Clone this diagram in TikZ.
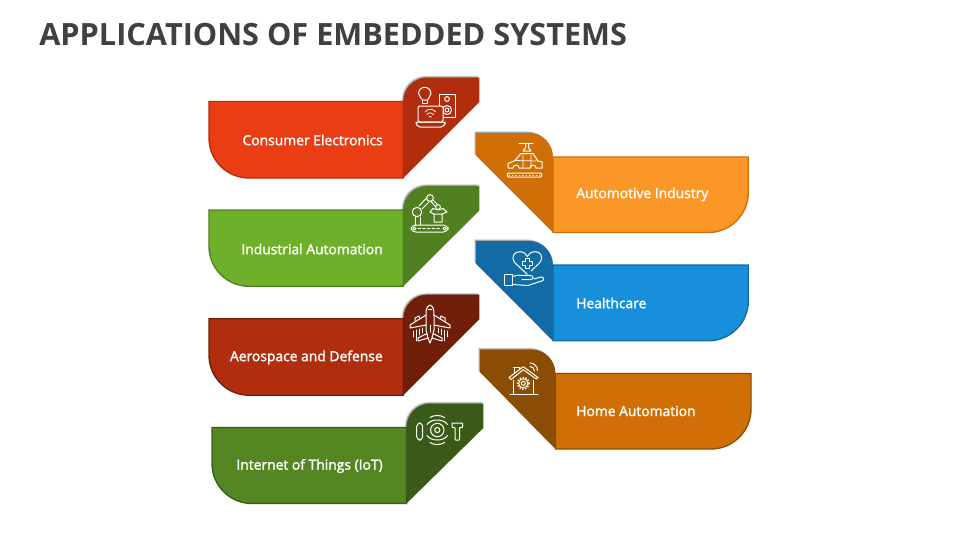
\documentclass[tikz,border=0pt]{standalone}
\usepackage{fontspec}
\setmainfont{Open Sans}
\definecolor{titlec}{HTML}{404040}
\definecolor{cA}{HTML}{EB3D13}\definecolor{fA}{HTML}{B02E0E}
\definecolor{cB}{HTML}{FB9726}\definecolor{fB}{HTML}{D06F05}
\definecolor{cC}{HTML}{6FB02A}\definecolor{fC}{HTML}{518020}
\definecolor{cD}{HTML}{178FDB}\definecolor{fD}{HTML}{126BA5}
\definecolor{cE}{HTML}{B02E0E}\definecolor{fE}{HTML}{70200A}
\definecolor{cF}{HTML}{D06F05}\definecolor{fF}{HTML}{8B4D04}
\definecolor{cG}{HTML}{548622}\definecolor{fG}{HTML}{3A5B17}
\tikzset{
  lab/.style={text=white,font=\fontsize{10.4pt}{12pt}\selectfont\addfontfeature{FakeBold=1.8},inner sep=0pt},
  ic/.style={draw=white,line width=0.75pt,line cap=round,line join=round,fill=none},
  icthin/.style={draw=white,line width=0.55pt,line cap=round,line join=round,fill=none}
}
\newcommand{\softshadow}[1]{%
  \foreach \d/\o in {3/.10,2/.16,1/.22}{\fill[black,opacity=\o,shift={(-\d*0.6,-\d*0.6)}] #1;}}
% x y bar flag width-to-junction height flag-right
\newcommand{\leftband}[7]{%
  \begin{scope}[shift={(#1,#2)}]
    \softshadow{(#5,#6) -- (#5,0) arc[start angle=180,end angle=270,radius=24] -- (#7,-24) -- (#7,0.5) -- cycle}
    \filldraw[fill=#3,draw=#4,line width=1pt] (#5,0) -- (0,0) -- (0,#6-40) arc[start angle=180,end angle=90,radius=40] -- (#5,#6) -- cycle;
    \fill[#4] (#5,#6) -- (#5,0) arc[start angle=180,end angle=270,radius=24] -- (#7,-24) -- (#7,0.5) -- cycle;
  \end{scope}}
% x y bar flag width height flag-left
\newcommand{\rightband}[7]{%
  \begin{scope}[shift={(#1,#2)}]
    \softshadow{(0,#6) -- (0,0) arc[start angle=0,end angle=-90,radius=24] -- (-#7,-24) -- (-#7,-1.5) -- cycle}
    \filldraw[fill=#3,draw=#4,line width=1pt] (0,0) -- (#5,0) -- (#5,#6-40) arc[start angle=0,end angle=90,radius=40] -- (0,#6) -- cycle;
    \fill[#4] (0,#6) -- (0,0) arc[start angle=0,end angle=-90,radius=24] -- (-#7,-24) -- (-#7,-1.5) -- cycle;
  \end{scope}}
\begin{document}
\begin{tikzpicture}[x=0.75pt,y=-0.75pt]
\useasboundingbox (0,0) rectangle (960,540);
\fill[white] (0,0) rectangle (960,540);
\node[anchor=west,inner sep=0pt,text=titlec,font=\fontsize{23pt}{28pt}\selectfont\bfseries] (title) at (39,35) {APPLICATIONS OF EMBEDDED SYSTEMS};

\leftband{209}{101.5}{cA}{fA}{194.3}{76.5}{270.3}
\leftband{209}{210}{cC}{fC}{194.3}{76.3}{270.3}
\leftband{209}{318.7}{cE}{fE}{194.3}{76.5}{270.3}
\leftband{212}{427.5}{cG}{fG}{194.5}{76}{271.3}
\rightband{553}{157}{cB}{fB}{195.3}{75.5}{77}
\rightband{553}{265}{cD}{fD}{195.3}{75.8}{77}
\rightband{555.5}{373.5}{cF}{fF}{195.5}{75.5}{75.5}

\node[lab,anchor=east] (l1) at (383,140) {Consumer Electronics};
\node[lab,anchor=east] (l2) at (383,249) {Industrial Automation};
\node[lab,anchor=east] (l3) at (383,357.5) {Aerospace and Defense};
\node[lab,anchor=east] (l4) at (383,466) {Internet of Things (IoT)};
\node[lab,anchor=west] (r1) at (576,194.5) {Automotive Industry};
\node[lab,anchor=west] (r2) at (576,303) {Healthcare};
\node[lab,anchor=west] (r3) at (576,411) {Home Automation};

% --- consumer electronics icon
\draw[ic] (422.5,100) .. controls (422,97.5) and (418.5,97) .. (418.5,93.5) arc[start angle=180,end angle=360,radius=6.2] .. controls (431,97) and (428,97.5) .. (427.5,100) -- cycle;
\draw[ic] (422.5,100) -- (422.5,103.5) -- (427.5,103.5) -- (427.5,100);
\draw[ic] (439,94) rectangle (455,117);
\draw[ic] (447,99) circle (2.4) (447,110) circle (4.5) (447,110) circle (2);
\filldraw[fill=fA,draw=white,line width=0.75pt,rounded corners=1pt] (418,106) rectangle (443,122);
\draw[ic,rounded corners=1.5pt] (416,122) -- (445,122) -- (445,124) -- (443,127) -- (418,127) -- (416,124) -- cycle;
\draw[icthin] (425,112) arc[start angle=215,end angle=325,radius=6.5];
\draw[icthin] (427,114.5) arc[start angle=215,end angle=325,radius=4];
\draw[icthin] (429,117) arc[start angle=215,end angle=325,radius=1.5];

% --- automotive icon
\draw[ic] (519,143) -- (533,143);
\draw[ic] (525.5,143) -- (525.5,148) -- (523,151) -- (531,151) -- (528.5,148) -- (528.5,143);
\draw[ic] (508,168) -- (508,163.5) -- (515,160.5) -- (521,153.5) -- (533,153.5) -- (538,161) -- (542,162) -- (542,168) -- (536,168) arc[start angle=0,end angle=-180,radius=3] -- (519,168) arc[start angle=0,end angle=-180,radius=3] -- cycle;
\draw[icthin] (523,155) -- (523,168) (531,155) -- (531,168) (515,160.5) -- (538,161);
\draw[ic,rounded corners=1.5pt] (507,173) rectangle (542,177);
\draw[icthin,dotted] (509,175) -- (540,175);

% --- robot icon
\draw[ic,rounded corners=3.4pt] (411,225) rectangle (448,232);
\draw[icthin] (414.5,228.5) circle (1.5) (444.5,228.5) circle (1.5);
\draw[icthin,dash pattern=on 2pt off 1.5pt] (418,228.5) -- (441,228.5);
\draw[ic] (417,212) circle (4.7) (430,198) circle (3.4) (438,207) circle (2.4);
\draw[ic] (415,217) -- (415,225) (420,217) -- (420,225);
\draw[ic] (419,206) -- (426.5,198) (422,209) -- (429,202);
\draw[ic] (433,200) -- (437,204) (431,201.5) -- (436,207);
\draw[ic] (434,214) rectangle (442,222) (434,214) -- (430,212) -- (433,208.5) -- (438,210) -- (443,208.5) -- (447,212) -- (442,214);

% --- healthcare icon
\draw[ic] (527.3,274.3) -- (515,263) .. controls (510,256) and (515,251.5) .. (520,251.7) .. controls (524,251.7) and (526,254) .. (527.3,256.5) .. controls (528.6,254) and (531,251.7) .. (535,251.7) .. controls (540,251.5) and (544.5,256) .. (539.5,263) -- (531,271);
\draw[ic] (525.5,258.5) -- (529.1,258.5) -- (529.1,261.5) -- (532,261.5) -- (532,265) -- (529.1,265) -- (529.1,268) -- (525.5,268) -- (525.5,265) -- (522.6,265) -- (522.6,261.5) -- (525.5,261.5) -- cycle;
\draw[ic] (504.3,274) rectangle (512.3,285.7);
\draw[ic] (512.3,276.5) -- (518,275.2) -- (530,275.5) .. controls (534,275.5) and (534.5,279.5) .. (530,279.5) -- (522,279.5);
\draw[ic] (534,279) -- (541,277) .. controls (544,277) and (544.5,280) .. (543,280.5) -- (528,285.5) -- (512.3,284.5);

% --- plane icon
\draw[ic] (430,305) .. controls (426,307) and (426,310) .. (426,316) -- (426,330) -- (428,338) -- (418,341) -- (418,338) -- (426,334) (430,305) .. controls (434,307) and (434,310) .. (434,316) -- (434,330) -- (432,338) -- (442,341) -- (442,338) -- (434,334) (428,338) -- (430,343) -- (432,338);
\draw[ic] (426,315) -- (410,325) -- (410,328) -- (426,325);
\draw[ic] (434,315) -- (450,325) -- (450,328) -- (434,325);
\draw[ic] (428,309) -- (432,309) (430,325) -- (430,332);
\draw[ic] (415,322) -- (415,318) -- (419,316) -- (420,319);
\draw[ic] (445,322) -- (445,318) -- (441,316) -- (440,319);
\draw[icthin] (413,331) -- (413,337) (416,330) -- (416,341) (419,329) -- (419,335) (422,328) -- (422,333);
\draw[icthin] (447,331) -- (447,337) (444,330) -- (444,341) (441,329) -- (441,335) (438,328) -- (438,333);

% --- home icon
\draw[ic] (509,377.5) -- (523.3,366.7) -- (538,377.5) -- (536.3,379) -- (523.3,369.7) -- (511,379.5) -- cycle;
\draw[ic] (514.5,373) -- (514.5,367) -- (519,367) -- (519,369.5);
\draw[ic] (513.5,367) -- (520,367);
\draw[ic] (513,380) -- (513,394) (533,380) -- (533,394);
\draw[ic] (510,394.2) -- (538,394.2);
\draw[ic] (523.3,383.3) circle (2) (523.3,383.3) circle (4.6);
\draw[ic,dash pattern=on 1pt off 1.2pt,line cap=butt,line width=1.1pt] (523.3,383.3) circle (5.8);
\draw[ic] (530,366.5) arc[start angle=-90,end angle=0,radius=4.5];
\draw[ic] (530,363) arc[start angle=-90,end angle=0,radius=7.5];

% --- IoT icon
\draw[ic,rounded corners=2.8pt] (416.7,423) rectangle (422.7,440);
\draw[ic] (437.3,430) circle (2.6) (437.3,430) circle (6.7);
\draw[ic] (427,424.5) .. controls (431,418.5) and (443.5,418.5) .. (447.5,424.5);
\draw[ic] (430,417.5) .. controls (434,414.8) and (440.5,414.8) .. (444.5,417.5);
\draw[ic] (427,435.5) .. controls (431,441.5) and (443.5,441.5) .. (447.5,435.5);
\draw[ic] (430,442.5) .. controls (434,445.2) and (440.5,445.2) .. (444.5,442.5);
\draw[ic,rounded corners=0.5pt] (452,423) -- (462.5,423) -- (462.5,427.5) -- (459.5,427.5) -- (459.5,440) -- (455,440) -- (455,427.5) -- (452,427.5) -- cycle;
\end{tikzpicture}
\end{document}
